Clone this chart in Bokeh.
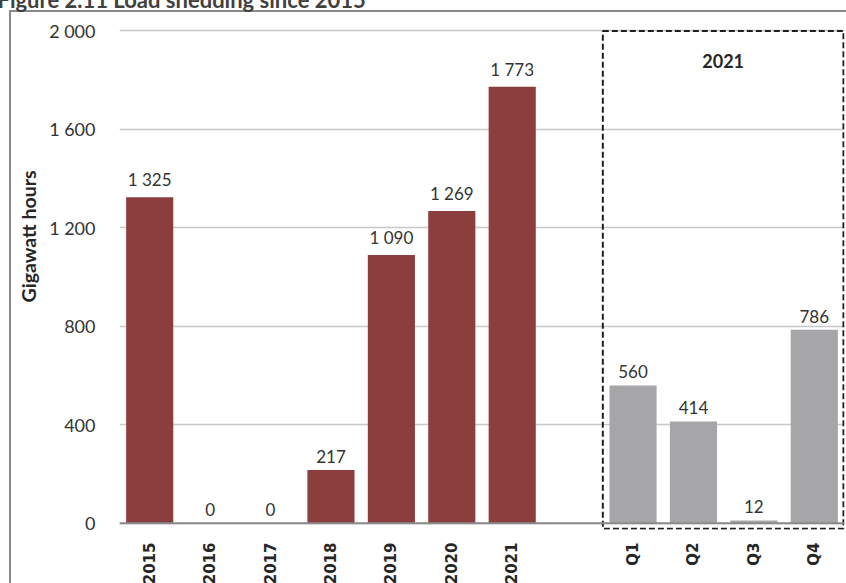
from math import pi
from bokeh.plotting import figure
from bokeh.models import (FactorRange, Range1d, FixedTicker, Span, Label, LabelSet,
                          ColumnDataSource, Title)
from bokeh.core.properties import value
from bokeh.embed import file_html
from bokeh.resources import INLINE

# ---------------- data ----------------
title_text = "Figure 2.11 Load shedding since 2015"
y_axis_title = "Gigawatt hours"
years = ["2015", "2016", "2017", "2018", "2019", "2020", "2021"]
year_values = [1325, 0, 0, 217, 1090, 1269, 1773]
quarters = ["Q1", "Q2", "Q3", "Q4"]
quarter_values = [560, 414, 12, 786]
panel_title = "2021"
gap_factor = " "
y_ticks = [0, 400, 800, 1200, 1600, 2000]


def fmt(v):
    return f"{v:,}".replace(",", " ")


factors = years + [gap_factor] + quarters

RED = "#8c3d3d"
GREY = "#a6a6a8"
TXT = "#333333"

p = figure(
    x_range=FactorRange(factors=factors, range_padding=0),
    y_range=Range1d(-25, 2010),
    frame_width=725, frame_height=501,
    output_backend="svg", toolbar_location=None,
    min_border_left=119, min_border_right=2, min_border_top=28, min_border_bottom=54,
)
p.styles = {
    "margin-bottom": "-40px",
    "background": ("linear-gradient(#8a8a8a,#8a8a8a) 9px 10px / 2px 700px no-repeat, "
                   "linear-gradient(#8a8a8a,#8a8a8a) 9px 10px / 1000px 2px no-repeat, #ffffff"),
}
p.border_fill_alpha = 0
p.background_fill_color = "white"
p.outline_line_color = None

# grid
p.xgrid.visible = False
p.ygrid.ticker = FixedTicker(ticks=y_ticks)
p.ygrid.grid_line_color = "#c8c8c8"
p.ygrid.grid_line_width = 1.5

# y axis
p.yaxis.ticker = FixedTicker(ticks=y_ticks)
p.yaxis.major_label_overrides = {t: fmt(t) for t in y_ticks}
p.yaxis.axis_line_color = None
p.yaxis.major_tick_line_color = None
p.yaxis.minor_tick_line_color = None
p.yaxis.major_label_standoff = 18
p.yaxis.major_label_text_font = "Lato"
p.yaxis.major_label_text_font_size = "18px"
p.yaxis.major_label_text_color = TXT

# x axis
p.xaxis.axis_line_color = None
p.xaxis.major_tick_line_color = None
p.xaxis.minor_tick_line_color = None
p.xaxis.major_label_orientation = pi / 2
p.xaxis.major_label_standoff = 7
p.xaxis.major_label_text_font = "DejaVu Sans"
p.xaxis.major_label_text_font_style = "bold"
p.xaxis.major_label_text_font_size = "15px"
p.xaxis.major_label_text_color = "#262626"

# bars
src_y = ColumnDataSource(dict(cat=years, val=year_values, lab=[fmt(v) for v in year_values]))
src_q = ColumnDataSource(dict(cat=quarters, val=quarter_values, lab=[fmt(v) for v in quarter_values]))
p.vbar(x="cat", top="val", width=0.78, source=src_y, fill_color=RED, line_color=None)
p.vbar(x="cat", top="val", width=0.78, source=src_q, fill_color=GREY, line_color=None)

# zero line
p.add_layout(Span(location=0, dimension="width", line_color="#8a8a8a", line_width=2))

# value labels
for src in (src_y, src_q):
    p.add_layout(LabelSet(x="cat", y="val", text="lab", source=src, y_offset=7,
                          text_align="center", text_baseline="bottom",
                          text_font=value("Lato"), text_font_size="17px", text_color=TXT))

# dashed 2021 box
box_left = factors.index(quarters[0])
box_right = len(factors) - 0.017
p.quad(left=[box_left], right=[box_right], top=[y_ticks[-1]], bottom=[-22],
       fill_color=None, line_color="#1e1e1e", line_width=2, line_dash="6 3")
p.add_layout(Label(x=(box_left + box_right) / 2, y=1880, text=panel_title,
                   text_align="center", text_baseline="middle",
                   text_font="Lato", text_font_style="bold",
                   text_font_size="18px", text_color="#262626"))

# y axis title
p.add_layout(Title(text=y_axis_title, align="right", offset=142, standoff=13,
                   text_font="Lato", text_font_style="bold",
                   text_font_size="19.5px", text_color="#262626"), "left")

# figure title (mostly cut off at the top, as in the reference)
p.add_layout(Label(x=-2.02, y=2128, text=title_text,
                   text_align="left", text_baseline="alphabetic",
                   text_font="Lato", text_font_style="bold",
                   text_font_size="22px", text_color="#404040"), "above")

open("out.html", "w").write(file_html(p, INLINE))
